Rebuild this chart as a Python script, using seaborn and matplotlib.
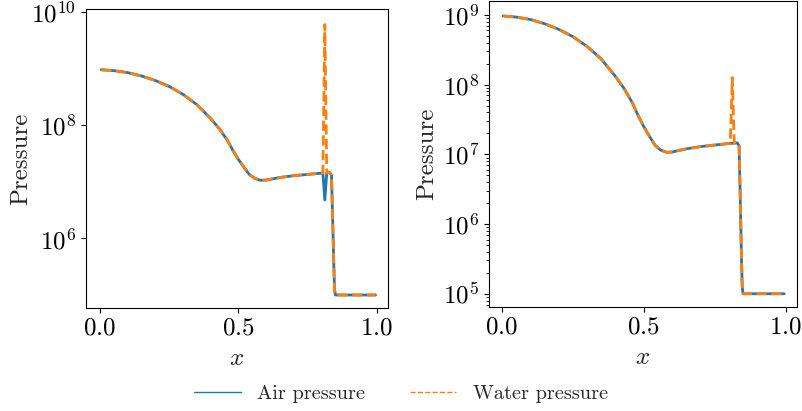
import numpy as np
import pandas as pd
import matplotlib
matplotlib.use("Agg")
import matplotlib.pyplot as plt
from matplotlib.lines import Line2D
from matplotlib.ticker import LogLocator, NullLocator
import seaborn as sns

# ---- data ----
x_vals = [0.005, 0.05, 0.1, 0.15, 0.2, 0.25, 0.3, 0.35, 0.4, 0.43, 0.46, 0.48,
          0.5, 0.52, 0.54, 0.56, 0.58, 0.6, 0.65, 0.7, 0.75, 0.8, 0.805, 0.812,
          0.819, 0.83, 0.836, 0.84, 0.844, 0.847, 0.85, 0.9, 0.95, 0.995]

air_left = [9.66e8, 9.33e8, 8.61e8, 7.50e8, 6.24e8, 4.90e8, 3.55e8, 2.34e8, 1.32e8,
            8.91e7, 5.50e7, 3.63e7, 2.51e7, 1.82e7, 1.35e7, 1.15e7, 1.07e7, 1.08e7,
            1.20e7, 1.29e7, 1.36e7, 1.43e7, 1.44e7, 4.8e6, 1.45e7, 1.46e7, 1.32e7,
            2.5e6, 4.0e5, 1.26e5, 1.0e5, 1.0e5, 1.0e5, 1.0e5]
water_left = [9.66e8, 9.33e8, 8.61e8, 7.50e8, 6.24e8, 4.90e8, 3.55e8, 2.34e8, 1.32e8,
              8.91e7, 5.50e7, 3.63e7, 2.51e7, 1.82e7, 1.35e7, 1.15e7, 1.07e7, 1.08e7,
              1.20e7, 1.29e7, 1.36e7, 1.43e7, 1.44e7, 6.1e9, 1.45e7, 1.46e7, 1.32e7,
              2.5e6, 4.0e5, 1.26e5, 1.0e5, 1.0e5, 1.0e5, 1.0e5]
air_right = [9.66e8, 9.33e8, 8.61e8, 7.50e8, 6.24e8, 4.90e8, 3.55e8, 2.34e8, 1.32e8,
             8.91e7, 5.50e7, 3.63e7, 2.51e7, 1.82e7, 1.35e7, 1.15e7, 1.07e7, 1.08e7,
             1.20e7, 1.29e7, 1.36e7, 1.43e7, 1.44e7, 1.44e7, 1.45e7, 1.46e7, 1.32e7,
             2.5e6, 4.0e5, 1.26e5, 1.0e5, 1.0e5, 1.0e5, 1.0e5]
water_right = [9.66e8, 9.33e8, 8.61e8, 7.50e8, 6.24e8, 4.90e8, 3.55e8, 2.34e8, 1.32e8,
               8.91e7, 5.50e7, 3.63e7, 2.51e7, 1.82e7, 1.35e7, 1.15e7, 1.07e7, 1.08e7,
               1.20e7, 1.29e7, 1.36e7, 1.43e7, 1.44e7, 1.26e8, 1.45e7, 1.46e7, 1.32e7,
               2.5e6, 4.0e5, 1.26e5, 1.0e5, 1.0e5, 1.0e5, 1.0e5]

series_labels = ["Air pressure", "Water pressure"]
x_ticks = [0.0, 0.5, 1.0]
left_yticks = [1e6, 1e8, 1e10]

# ---- style ----
sns.set_style("ticks")
plt.rcParams.update({
    "font.family": ["cmr10", "DejaVu Serif"],
    "mathtext.fontset": "cm",
    "axes.formatter.use_mathtext": True,
    "axes.edgecolor": "black",
    "axes.linewidth": 0.8,
    "xtick.direction": "out",
    "ytick.direction": "out",
    "xtick.color": "black",
    "ytick.color": "black",
    "axes.unicode_minus": False,
})

blue = "#1f77b4"
orange = "#ff7f0e"

fig = plt.figure(figsize=(8.02, 4.11), dpi=100)
ax1 = fig.add_axes([86 / 802, (411 - 308) / 411, 302 / 802, 299 / 411])
ax2 = fig.add_axes([489 / 802, (411 - 307) / 411, 308 / 802, 306 / 411])

panels = [(ax1, air_left, water_left), (ax2, air_right, water_right)]
for ax, air, water in panels:
    df = pd.DataFrame({"x": x_vals, "air": air, "water": water})
    sns.lineplot(data=df, x="x", y="air", ax=ax, color=blue, lw=2.0,
                 estimator=None, sort=False)
    sns.lineplot(data=df, x="x", y="water", ax=ax, color=orange, lw=2.0,
                 linestyle="--", estimator=None, sort=False)
    ax.set_yscale("log")
    ax.set_xticks(x_ticks)
    ax.set_xlabel(r"$x$", fontsize=18, labelpad=6)
    ax.set_ylabel("Pressure", fontsize=18)
    ax.tick_params(axis="both", which="major", labelsize=18, length=3.5, width=0.8)
    for s in ax.spines.values():
        s.set_visible(True)
        s.set_color("black")
        s.set_linewidth(0.8)

ax1.set_xlim(-0.05, 1.04)
ax1.set_ylim(10 ** 4.77, 10 ** 10.06)
ax1.set_yticks(left_yticks)
ax1.yaxis.set_minor_locator(NullLocator())
ax1.yaxis.set_label_coords(-0.179, 0.5)

ax2.set_xlim(-0.045, 1.04)
ax2.set_ylim(10 ** 4.81, 10 ** 9.2)
ax2.yaxis.set_major_locator(LogLocator(base=10, numticks=10))
ax2.yaxis.set_minor_locator(LogLocator(base=10, subs=np.arange(2, 10), numticks=20))
ax2.tick_params(axis="y", which="minor", length=2, width=0.6)
ax2.yaxis.set_label_coords(-0.166, 0.5)

handles = [Line2D([], [], color=blue, lw=1.0),
           Line2D([], [], color=orange, lw=1.0, linestyle="--")]
fig.legend(handles, series_labels, loc="lower center", ncol=2, frameon=False,
           fontsize=14.6, bbox_to_anchor=(0.5, -0.024), handlelength=2.3,
           columnspacing=2.2)

fig.savefig("out.png", dpi=100)
